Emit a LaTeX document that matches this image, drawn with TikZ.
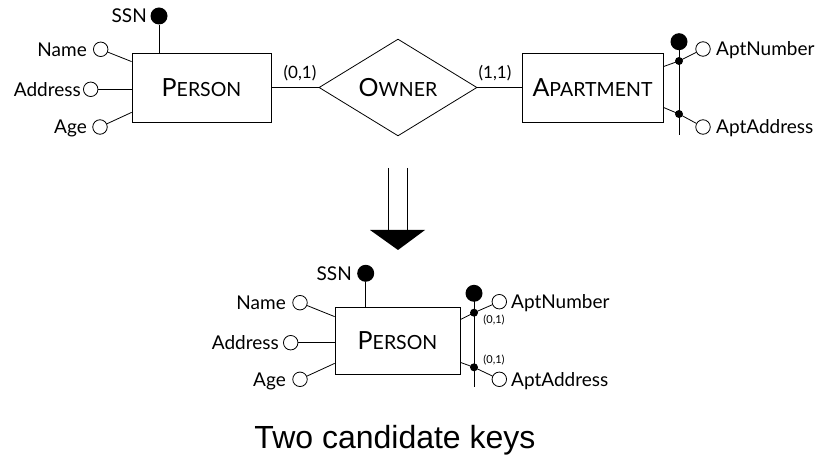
\documentclass[tikz,border=0pt]{standalone}
\usepackage{fontspec}
\setmainfont{Lato}
\newfontfamily\capfont{Liberation Sans}
\usetikzlibrary{shapes.geometric}
\newcommand\smc[2]{{\fontsize{25}{25}\selectfont #1}{\fontsize{19.5}{20}\selectfont #2}}
\begin{document}
\begin{tikzpicture}[x=1pt,y=-1pt,
  ent/.style={draw, line width=0.8pt, minimum width=139pt, minimum height=69pt, inner sep=0},
  rel/.style={diamond, draw, line width=0.8pt, minimum width=158pt, minimum height=86pt, inner sep=0},
  keyc/.style={circle, fill=black, minimum size=17pt, inner sep=0},
  attc/.style={circle, draw, line width=0.8pt, fill=white, minimum size=14.5pt, inner sep=0},
  dotc/.style={circle, fill=black, minimum size=8pt, inner sep=0},
  lbl/.style={font=\fontsize{19}{19}\selectfont, inner sep=0, text height=13.6pt, text depth=0pt},
  card/.style={font=\fontsize{17}{17}\selectfont, inner sep=0},
  scard/.style={font=\fontsize{11}{11}\selectfont, inner sep=0},
  ln/.style={line width=0.8pt},
]
\useasboundingbox (0,0) rectangle (819,462);

% ---------- top diagram ----------
\node[ent] (p1) at (201.5,87.5) {\smc{P}{ERSON}};
\node[keyc] (ssn1) at (159,16) {};
\node[lbl, anchor=east] (ssn1L) at (147,16) {SSN};
\node[attc] (nm1) at (100.7,49.3) {};
\node[lbl, anchor=east] (nm1L) at (87,49.3) {Name};
\node[attc] (ad1) at (90.7,89.3) {};
\node[lbl, anchor=east] (ad1L) at (81,89.3) {Address};
\node[attc] (ag1) at (100,127) {};
\node[lbl, anchor=east] (ag1L) at (87,127) {Age};
\draw[ln] (ssn1) -- (ssn1 |- p1.north);
\draw[ln] (nm1) -- ([yshift=-9pt]p1.north west);
\draw[ln] (ad1) -- (p1.west |- ad1);
\draw[ln] (ag1) -- ([yshift=10pt]p1.south west);

\node[rel] (own) at (398,87.5) {\smc{O}{WNER}};
\node[card] (c1) at (300,73) {(0,1)};
\node[card] (c2) at (495,73) {(1,1)};
\node[ent, minimum width=141pt] (apt) at (592.5,87.5) {\smc{A}{PARTMENT}};
\draw[ln] (p1.east) -- (own.west);
\draw[ln] (own.east) -- (apt.west);

\coordinate (kv1) at (679,135);
\node[keyc] (k2) at (679,41.7) {};
\node[dotc] (d1) at (679,61) {};
\node[dotc] (d2) at (679,114) {};
\node[attc] (an1) at (703,49) {};
\node[attc] (aa1) at (703,127) {};
\node[lbl, anchor=west] (an1L) at (716,49) {AptNumber};
\node[lbl, anchor=west] (aa1L) at (716,127) {AptAddress};
\draw[ln] (k2.center) -- (kv1);
\draw[ln] ([yshift=-14pt]apt.north east) -- (d1.center) -- (an1);
\draw[ln] ([yshift=15pt]apt.south east) -- (d2.center) -- (aa1);

% ---------- arrow ----------
\coordinate (a1s) at (388,168);
\coordinate (a1e) at (388,231);
\coordinate (a2s) at (407,168);
\coordinate (a2e) at (407,231);
\coordinate (tl) at (370,230);
\coordinate (tr) at (425,230);
\coordinate (tt) at (398,250);
\draw[ln] (a1s) -- (a1e);
\draw[ln] (a2s) -- (a2e);
\fill (tl) -- (tr) -- (tt) -- cycle;

% ---------- bottom diagram ----------
\node[ent, minimum width=125pt, minimum height=67pt] (p2) at (397.5,340.5) {\smc{P}{ERSON}};
\node[keyc] (ssn2) at (365.7,273.3) {};
\node[lbl, anchor=east] (ssn2L) at (352,273.3) {SSN};
\node[attc] (nm2) at (300,302.7) {};
\node[lbl, anchor=east] (nm2L) at (286,302.7) {Name};
\node[attc] (ad2) at (290.7,342.7) {};
\node[lbl, anchor=east] (ad2L) at (279,342.7) {Address};
\node[attc] (ag2) at (300,379.3) {};
\node[lbl, anchor=east] (ag2L) at (286,379.3) {Age};
\draw[ln] (ssn2) -- (ssn2 |- p2.north);
\draw[ln] (nm2) -- ([yshift=-10pt]p2.north west);
\draw[ln] (ad2) -- (p2.west |- ad2);
\draw[ln] (ag2) -- ([yshift=11pt]p2.south west);

\coordinate (kv2) at (474,386.7);
\node[keyc] (k3) at (474,293.3) {};
\node[dotc] (d3) at (474,312.7) {};
\node[dotc] (d4) at (474,367.3) {};
\node[attc] (an2) at (499.3,301.7) {};
\node[attc] (aa2) at (499.3,379.3) {};
\node[lbl, anchor=west] (an2L) at (511,301.7) {AptNumber};
\node[lbl, anchor=west] (aa2L) at (511,379.3) {AptAddress};
\node[scard] (s1) at (494,320) {(0,1)};
\node[scard] (s2) at (494,360) {(0,1)};
\draw[ln] (k3.center) -- (kv2);
\draw[ln] ([yshift=-13pt]p2.north east) -- (d3.center) -- (an2);
\draw[ln] ([yshift=12pt]p2.south east) -- (d4.center) -- (aa2);

% ---------- caption ----------
\node[font=\capfont\fontsize{32}{32}\selectfont, inner sep=0] (cap) at (395,440) {Two candidate keys};
\end{tikzpicture}
\end{document}
